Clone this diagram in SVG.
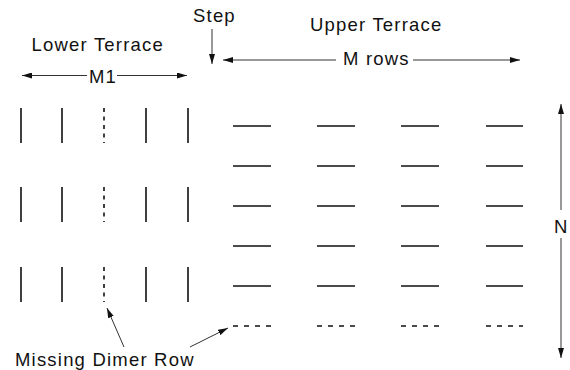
<svg xmlns="http://www.w3.org/2000/svg" width="570" height="370" viewBox="0 0 570 370">
  <defs>
    <marker id="head" viewBox="0 0 10 6" refX="10" refY="3" markerWidth="10" markerHeight="6" markerUnits="userSpaceOnUse" orient="auto">
      <path d="M0,0 L10,3 L0,6 Z" fill="#111"/>
    </marker>
    <style>
      text { font-family: "Liberation Sans", Arial, sans-serif; font-size: 18.5px; fill: #111; letter-spacing: 1.2px; }
      .dimer { stroke: #111; stroke-width: 1.6; fill: none; }
      .vmiss { stroke: #111; stroke-width: 1.6; stroke-dasharray: 4 4.5; fill: none; }
      .hmiss { stroke: #111; stroke-width: 1.4; stroke-dasharray: 5 6; fill: none; }
      .conn { stroke: #333; stroke-width: 1; fill: none; }
      .arr { stroke: #333; stroke-width: 1; fill: none; marker-end: url(#head); }
    </style>
  </defs>
  <rect width="570" height="370" fill="#fff"/>

  <!-- lower terrace: vertical dimer rows, middle row missing -->
  <g id="lower-terrace">
    <path class="dimer" d="M21,108V143M62,108V143M146,108V143M188,108V143"/>
    <path class="dimer" d="M21,187V222M62,187V222M146,187V222M188,187V222"/>
    <path class="dimer" d="M21,267V302M62,267V302M146,267V302M188,267V302"/>
    <path class="vmiss" d="M104,108V143M104,187V222M104,267V302"/>
  </g>

  <!-- upper terrace: horizontal dimers, bottom row missing -->
  <g id="upper-terrace">
    <path class="dimer" d="M233,126H271M317,126H355M401,126H439M486,126H523"/>
    <path class="dimer" d="M233,166H271M317,166H355M401,166H439M486,166H523"/>
    <path class="dimer" d="M233,206H271M317,206H355M401,206H439M486,206H523"/>
    <path class="dimer" d="M233,246H271M317,246H355M401,246H439M486,246H523"/>
    <path class="dimer" d="M233,286H271M317,286H355M401,286H439M486,286H523"/>
    <path class="hmiss" d="M233,326H271M317,326H355M401,326H439M486,326H523"/>
  </g>

  <g id="labels">
    <text id="lower-label" x="31.5" y="50.7" letter-spacing="1.1">Lower Terrace</text>
    <text id="upper-label" x="310" y="31" letter-spacing="1.3">Upper Terrace</text>
    <text id="step-label" x="193" y="21.7" letter-spacing="0.7">Step</text>
    <text id="m1-label" x="89" y="83">M1</text>
    <text id="mrows-label" x="343" y="65" letter-spacing="1.5">M rows</text>
    <text id="n-label" x="554" y="233" letter-spacing="0">N</text>
    <text id="missing-label" x="15" y="366" letter-spacing="1.25">Missing Dimer Row</text>
  </g>

  <g id="connectors">
    <!-- M1 span -->
    <path class="arr" d="M87,75.5H22"/>
    <path class="arr" d="M117,75.5H187"/>
    <!-- M rows span -->
    <path class="arr" d="M336,60H223"/>
    <path class="arr" d="M413,60H520"/>
    <!-- step pointer -->
    <path class="arr" d="M212,29V64"/>
    <!-- N span -->
    <path class="arr" d="M561,210V104"/>
    <path class="arr" d="M561,238V358"/>
    <!-- missing dimer row pointers -->
    <path class="arr" d="M124,347L107,308"/>
    <path class="arr" d="M190,347L228,328"/>
  </g>
</svg>
